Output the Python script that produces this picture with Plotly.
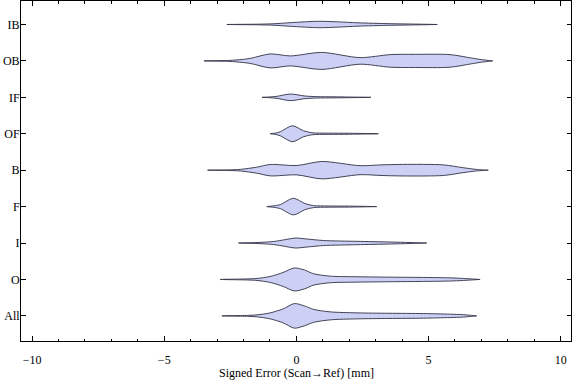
import plotly.graph_objects as go

# Category order from bottom (y=1) to top (y=9)
categories = ["All", "O", "I", "F", "B", "OF", "IF", "OB", "IB"]

# Violin outlines: x positions (mm) and half-widths (relative density)
All_x = [-2.82, -1.8, -1.49, -0.99, -0.5, -0.08, 0.3, 0.65, 1.28, 2.29, 3.5, 4.81, 5.8, 6.32, 6.82]
All_w = [0, 0.5, 1.0, 3.0, 7.0, 12.3, 10.0, 6.5, 4.0, 3.0, 2.6, 2.3, 1.7, 1.2, 0]

O_x = [-2.88, -1.9, -1.49, -0.99, -0.5, -0.08, 0.3, 0.65, 1.28, 2.29, 3.5, 4.81, 5.8, 6.32, 6.95]
O_w = [0, 0.5, 1.0, 3.0, 7.0, 11.5, 9.5, 5.7, 3.3, 2.7, 2.3, 2.0, 1.6, 1.0, 0]

I_x = [-2.19, -1.49, -0.87, -0.4, -0.05, 0.4, 1.03, 2.29, 3.55, 4.3, 4.93]
I_w = [0, 0.5, 1.5, 3.5, 5.0, 4.0, 2.5, 1.7, 1.0, 0.5, 0]

F_x = [-1.12, -0.9, -0.61, -0.11, 0.33, 0.65, 1.2, 2.0, 3.04]
F_w = [0, 0.6, 2.0, 8.3, 3.0, 1.0, 0.6, 0.5, 0]

B_x = [-3.36, -2.6, -2.12, -1.5, -0.99, 0.02, 0.96, 2.41, 3.2, 4.05, 5.56, 6.3, 6.8, 7.26]
B_w = [0, 0.3, 0.8, 3.0, 5.7, 4.7, 8.7, 4.5, 5.3, 5.8, 5.3, 2.5, 0.8, 0]

OF_x = [-0.99, -0.8, -0.61, -0.15, 0.27, 0.59, 1.2, 2.0, 3.10]
OF_w = [0, 0.6, 2.0, 8.0, 3.0, 1.0, 0.6, 0.5, 0]

IF_x = [-1.30, -1.0, -0.74, -0.23, 0.33, 0.77, 1.5, 2.82]
IF_w = [0, 0.4, 1.0, 3.3, 1.3, 0.7, 0.5, 0]

OB_x = [-3.49, -2.6, -2.25, -1.75, -0.99, -0.23, 0.96, 2.41, 3.55, 4.5, 5.81, 6.6, 7.0, 7.43]
OB_w = [0, 0.4, 1.0, 2.5, 7.0, 5.0, 8.5, 3.3, 6.3, 6.6, 6.3, 3.0, 1.3, 0]

IB_x = [-2.63, -1.5, -0.88, -0.23, 0.84, 1.6, 2.29, 3.55, 4.5, 5.33]
IB_w = [0, 0.3, 0.7, 1.8, 3.2, 2.6, 1.7, 0.8, 0.4, 0]

x_tick_vals = [-10, -5, 0, 5, 10]
x_tick_text = ["\u221210", "\u22125", "0", "5", "10"]
x_title = "Signed Error (Scan\u2192Ref) [mm]"

series = {
    "All": (All_x, All_w), "O": (O_x, O_w), "I": (I_x, I_w), "F": (F_x, F_w),
    "B": (B_x, B_w), "OF": (OF_x, OF_w), "IF": (IF_x, IF_w), "OB": (OB_x, OB_w),
    "IB": (IB_x, IB_w),
}

WIDTH_SCALE = 1 / 36.46  # density units -> category spacing

fig = go.Figure()
for i, cat in enumerate(categories):
    xs, ws = series[cat]
    c = i + 1
    px = list(xs) + list(reversed(xs))
    py = [c + w * WIDTH_SCALE for w in ws] + [c - w * WIDTH_SCALE for w in reversed(ws)]
    fig.add_trace(go.Scatter(
        x=px, y=py, mode="lines", fill="toself",
        fillcolor="rgb(203,208,244)",
        line=dict(color="rgba(50,50,70,0.9)", width=1, shape="spline", smoothing=0.8),
        hoverinfo="skip", showlegend=False,
    ))

font = dict(family="Liberation Serif, Times New Roman, serif", size=12, color="black")

fig.update_layout(
    width=576, height=381,
    margin=dict(l=21, r=5, t=1, b=40, autoexpand=False),
    plot_bgcolor="white", paper_bgcolor="white",
    font=font,
    xaxis=dict(
        range=[-10.42, 10.39], tickvals=x_tick_vals, ticktext=x_tick_text,
        ticks="inside", ticklen=5, tickcolor="black", tickwidth=1,
        minor=dict(dtick=1, ticks="inside", ticklen=2.5, tickcolor="black", tickwidth=1, showgrid=False),
        showline=True, linecolor="black", linewidth=1, mirror="ticks",
        showgrid=False, zeroline=False, automargin=False,
        ticklabelstandoff=8,
    ),
    yaxis=dict(
        range=[0.31, 9.645], tickvals=list(range(1, 10)), ticktext=categories,
        ticks="inside", ticklen=4.5, tickcolor="black", tickwidth=1,
        showline=True, linecolor="black", linewidth=1, mirror="ticks",
        showgrid=False, zeroline=False, automargin=False,
        ticklabelstandoff=-2,
    ),
    annotations=[dict(
        text=x_title, xref="paper", yref="paper", x=0.5, y=-31.5 / 340,
        xanchor="center", yanchor="middle", showarrow=False, font=font,
    )],
)

fig.write_html("out.html", config={"displayModeBar": False},
               post_script="document.body.style.margin='0';")
